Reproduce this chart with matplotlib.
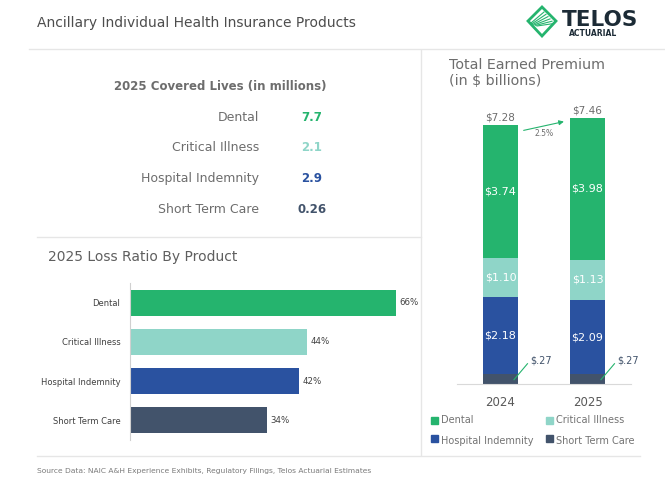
import matplotlib.pyplot as plt
from matplotlib.patches import Rectangle, Polygon

# data
products = ["Dental", "Critical Illness", "Hospital Indemnity", "Short Term Care"]
colors = ["#25b46e", "#8fd5c8", "#2a52a0", "#42536b"]
covered_lives = ["7.7", "2.1", "2.9", "0.26"]
loss_ratio = [66, 44, 42, 34]
years = ["2024", "2025"]
dental = [3.74, 3.98]
critical = [1.10, 1.13]
hospital = [2.18, 2.09]
short_term = [0.27, 0.27]
totals = [7.28, 7.46]

W, H = 665, 491
plt.rcParams['font.family'] = ['DejaVu Sans']
fig = plt.figure(figsize=(W / 100, H / 100), dpi=100)

def box(x0, y0, x1, y1):
    # pixel box (top-left origin) -> figure fraction
    return [x0 / W, (H - y1) / H, (x1 - x0) / W, (y1 - y0) / H]

# overlay for layout text and lines, pixel coords
ov = fig.add_axes([0, 0, 1, 1])
ov.set_xlim(0, W)
ov.set_ylim(H, 0)
ov.axis("off")

line_c = "#e6e6e6"
ov.plot([29, 665], [49, 49], color=line_c, lw=1)
ov.plot([421, 421], [50, 455], color=line_c, lw=1)
ov.plot([37, 421], [237, 237], color=line_c, lw=1)
ov.plot([37, 640], [456, 456], color=line_c, lw=1)

ov.text(37, 23, "Ancillary Individual Health Insurance Products", fontsize=10,
        color="#4d4d4d", va="center", ha="left")

# logo
green = "#25b46e"
ov.add_patch(Polygon([[542, 7], [556, 21], [542, 36], [528, 21]], closed=True,
                     fill=False, edgecolor=green, lw=2))
for k in range(6):
    ov.plot([531 + k * 1.2, 544 + k * 2.0], [23 + k * 0.6, 12 + k * 2.3],
            color=green, lw=0.8)
ov.text(562, 20, "TELOS", fontsize=15.5, fontweight="bold", color="#1c2b36",
        va="center", ha="left")
ov.text(593, 33.5, "ACTUARIAL", fontsize=5.5, fontweight="bold", color="#1c2b36",
        va="center", ha="center")

# covered lives table
ov.text(220, 86, "2025 Covered Lives (in millions)", fontsize=8.5, fontweight="bold",
        color="#6d6d6d", va="center", ha="center")
for i, (p, v) in enumerate(zip(products, covered_lives)):
    y = 117 + i * 30.7
    ov.text(259, y, p, fontsize=9, color="#6d6d6d", va="center", ha="right")
    ov.text(312, y, v, fontsize=8.5, fontweight="bold", color=colors[i],
            va="center", ha="center")

# loss ratio chart
ov.text(48, 257, "2025 Loss Ratio By Product", fontsize=10, color="#5f5f5f",
        va="center", ha="left")
ax1 = fig.add_axes(box(130, 283, 420, 440))
ax1.barh(range(len(products)), loss_ratio, height=0.66, color=colors)
ax1.set_ylim(3.5, -0.5)
ax1.set_xlim(0, 72)
ax1.set_yticks(range(len(products)))
ax1.set_yticklabels(products, fontsize=6, color="#404040")
ax1.set_xticks([])
ax1.tick_params(axis="y", length=0, pad=7)
for s in ["top", "right", "bottom"]:
    ax1.spines[s].set_visible(False)
ax1.spines["left"].set_color("#d0d0d0")
for i, v in enumerate(loss_ratio):
    ax1.text(v + 0.8, i, f"{v}%", fontsize=6.2, color="#404040", va="center", ha="left")

ov.text(37, 471, "Source Data: NAIC A&H Experience Exhibits, Regulatory Filings, Telos Actuarial Estimates",
        fontsize=5.4, color="#7a7a7a", va="center", ha="left")

# earned premium chart
ov.text(449, 65, "Total Earned Premium", fontsize=10.3, color="#6d6d6d", va="center", ha="left")
ov.text(449, 81, "(in $ billions)", fontsize=10.3, color="#6d6d6d", va="center", ha="left")

ax2 = fig.add_axes(box(457, 100, 631, 384))
xs = [0, 1]
bw = 0.40
b1 = short_term
b2 = [a + b for a, b in zip(b1, hospital)]
b3 = [a + b for a, b in zip(b2, critical)]
ax2.bar(xs, short_term, bw, color=colors[3])
ax2.bar(xs, hospital, bw, bottom=b1, color=colors[2])
ax2.bar(xs, critical, bw, bottom=b2, color=colors[1])
ax2.bar(xs, dental, bw, bottom=b3, color=colors[0])
ax2.set_xlim(-0.5, 1.5)
ax2.set_ylim(0, 7.98)
ax2.set_yticks([])
ax2.set_xticks(xs)
ax2.set_xticklabels(years, fontsize=8.5, color="#595959")
ax2.tick_params(axis="x", length=0, pad=9)
for s in ["top", "right", "left"]:
    ax2.spines[s].set_visible(False)
ax2.spines["bottom"].set_color("#d9d9d9")

for i in xs:
    ax2.text(i, b1[i] + hospital[i] / 2, f"${hospital[i]:.2f}", color="white",
             fontsize=8, ha="center", va="center")
    ax2.text(i, b2[i] + critical[i] / 2, f"${critical[i]:.2f}", color="white",
             fontsize=8, ha="center", va="center")
    ax2.text(i, b3[i] + dental[i] / 2, f"${dental[i]:.2f}", color="white",
             fontsize=8, ha="center", va="center")
    ax2.text(i, totals[i] + 0.08, f"${totals[i]:.2f}", color="#6d6d6d",
             fontsize=7.5, ha="center", va="bottom")
    ax2.plot([i + 0.155, i + 0.31], [short_term[i] * 0.45, short_term[i] + 0.3],
             color=green, lw=0.8)
    ax2.text(i + 0.34, short_term[i] + 0.4, f"${short_term[i]:.2f}".replace("$0", "$"),
             color="#42536b", fontsize=7, ha="left", va="center")

growth = (totals[1] / totals[0] - 1) * 100
ax2.annotate("", xy=(1 - bw / 2 - 0.04, totals[1] - 0.07),
             xytext=(bw / 2 + 0.035, totals[0] - 0.17),
             arrowprops=dict(arrowstyle="-|>", color=green, lw=0.8, mutation_scale=7))
ax2.text(0.5, totals[0] - 0.23, f"{growth:.1f}%", color="#6d6d6d", fontsize=5.5,
         ha="center", va="center")

# legend
for i, p in enumerate(products):
    lx = 434 if i % 2 == 0 else 549
    ly = 420 if i < 2 else 438
    ov.add_patch(Rectangle((lx - 3.5, ly - 3.5), 7, 7, color=colors[i]))
    ov.text(lx + 7, ly + (0 if i < 2 else 3), p, fontsize=7, color="#737373",
            va="center", ha="left")

fig.savefig("out.png", dpi=100)
